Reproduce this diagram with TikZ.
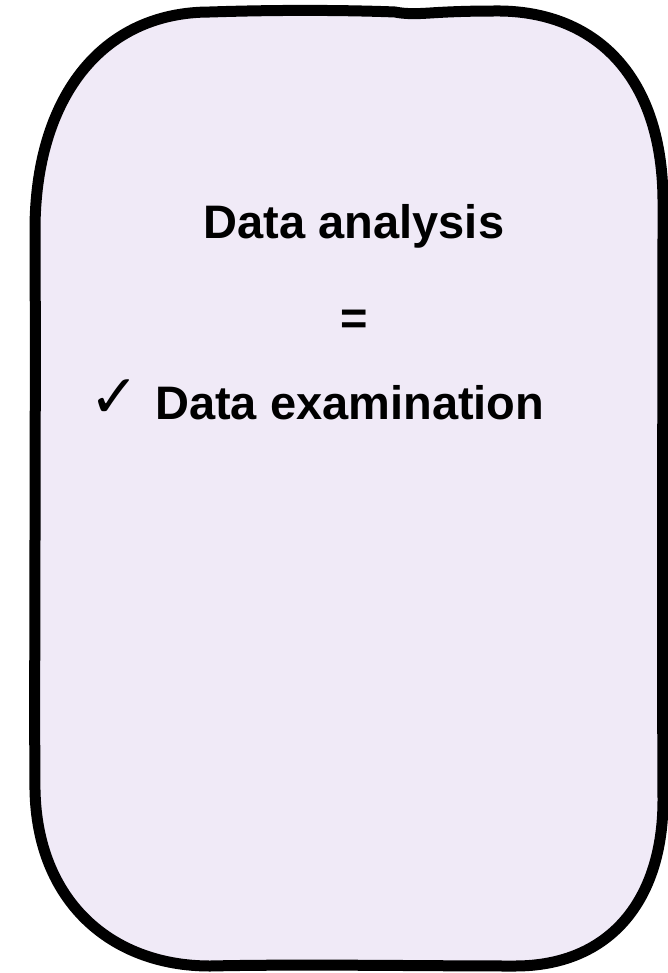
\documentclass[tikz,border=0pt]{standalone}
\usepackage{fontspec}
\setmainfont{Liberation Sans}
\newfontfamily\symfont{DejaVu Sans}
\definecolor{boxfill}{RGB}{240,234,247}

% hand-drawn outline of the rounded card
\def\cardpath{(210,12) .. controls (300,9) and (370,11) .. (395,12)
  .. controls (405,14) and (415,14) .. (430,13)
  .. controls (460,11) and (485,11) .. (500,11)
  .. controls (590,12) and (662,70) .. (663,200)
  .. controls (663,400) and (662,600) .. (663,800)
  .. controls (663,900) and (610,966) .. (515,966)
  .. controls (420,966) and (300,964) .. (210,966)
  .. controls (110,966) and (37,900) .. (35,790)
  .. controls (34,700) and (36,400) .. (35,230)
  .. controls (35,100) and (100,12) .. (210,12) -- cycle}

\tikzset{
  cardfill/.style={fill=boxfill, draw=none},
  cardline/.style={draw=black, line width=11pt, line join=round},
  lbl/.style={inner sep=0pt, font=\fontsize{47}{56}\selectfont\bfseries, text=black},
  tick/.style={inner sep=0pt, font=\fontsize{60}{70}\selectfont\symfont, text=black}
}

\begin{document}
\begin{tikzpicture}[x=1pt,y=-1pt]
\useasboundingbox (0,0) rectangle (667,973);

% card body: fill spills slightly past the ink on the right
\path[cardfill, xshift=4pt] \cardpath;
\path[cardfill] \cardpath;
\path[cardline] \cardpath;

% texts
\node[lbl, anchor=base] (title) at (354,239) {Data analysis};
\node[lbl, anchor=base] (eq) at (354,334) {=};
\node[tick, anchor=base west] (check) at (89,417) {✓};
\node[lbl, anchor=base west] (exam) at (155,419) {Data examination};
\end{tikzpicture}
\end{document}
